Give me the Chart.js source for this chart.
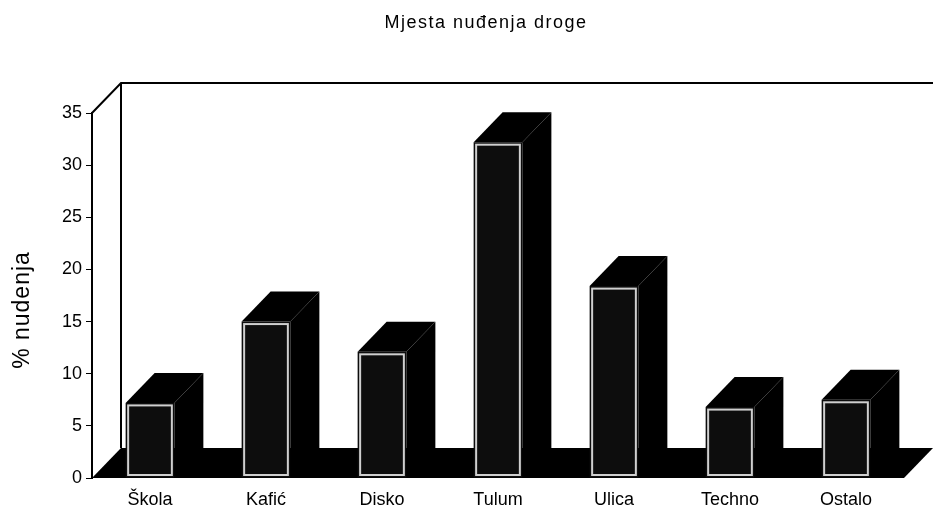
<!DOCTYPE html>
<html>
<head>
<meta charset="utf-8">
<script src="https://cdn.jsdelivr.net/npm/chart.js@4.4.1/dist/chart.umd.min.js"></script>
<style>
  body { margin: 0; background: #fff; }
  canvas { display: block; }
</style>
</head>
<body>
<canvas id="mjestaChart" width="934" height="512"></canvas>
<script>
// Podaci
const categories  = ['Škola', 'Kafić', 'Disko', 'Tulum', 'Ulica', 'Techno', 'Ostalo'];
const percentages = [7.2, 15.0, 12.1, 32.2, 18.4, 6.8, 7.5];
const yMin = 0, yMax = 35, yStep = 5;

const chartTitle = 'Mjesta nuđenja droge';
const yTitle     = '% nudenja';

const FONT = "'Liberation Sans', Arial, sans-serif";
const DX = 29, DY = -30;   // dubina 3D efekta

// ─────────────────────────────────────────────
// 3D pod, zidovi i kutije stupaca
// ─────────────────────────────────────────────
const box3d = {
  id: 'box3d',
  beforeDatasetsDraw(chart) {
    const { ctx, chartArea: a, scales } = chart;
    const yBase = scales.y.getPixelForValue(yMin);
    const yTop  = scales.y.getPixelForValue(yMax);
    ctx.save();
    ctx.strokeStyle = '#000';
    ctx.lineWidth = 2;
    ctx.beginPath();
    ctx.moveTo(a.left, yTop);
    ctx.lineTo(a.left + DX, yTop + DY);
    ctx.lineTo(a.right + DX, yTop + DY);
    ctx.moveTo(a.left + DX, yTop + DY);
    ctx.lineTo(a.left + DX, yBase + DY);
    ctx.stroke();

    ctx.fillStyle = '#000';
    ctx.beginPath();
    ctx.moveTo(a.left, yBase);
    ctx.lineTo(a.right, yBase);
    ctx.lineTo(a.right + DX, yBase + DY);
    ctx.lineTo(a.left + DX, yBase + DY);
    ctx.closePath();
    ctx.fill();
    ctx.restore();
  },
  afterDatasetsDraw(chart) {
    const { ctx } = chart;
    ctx.save();
    chart.getDatasetMeta(0).data.forEach(bar => {
      const { x, y, base, width } = bar.getProps(['x', 'y', 'base', 'width'], true);
      const l = x - width / 2, r = x + width / 2;
      ctx.fillStyle = '#000';
      ctx.beginPath();
      ctx.moveTo(l, y); ctx.lineTo(r, y);
      ctx.lineTo(r + DX, y + DY); ctx.lineTo(l + DX, y + DY);
      ctx.closePath(); ctx.fill();
      ctx.beginPath();
      ctx.moveTo(r, y); ctx.lineTo(r + DX, y + DY);
      ctx.lineTo(r + DX, base + DY); ctx.lineTo(r, base);
      ctx.closePath(); ctx.fill();
      ctx.strokeStyle = '#cfcfcf';
      ctx.lineWidth = 2;
      ctx.strokeRect(l + 2.5, y + 2.5, width - 5, base - y - 5);
    });
    ctx.restore();
  },
  afterDraw(chart) {
    const { ctx } = chart;
    ctx.save();
    ctx.fillStyle = '#000';
    ctx.font = '18px ' + FONT;
    ctx.letterSpacing = '1.5px';
    ctx.textAlign = 'center';
    ctx.textBaseline = 'alphabetic';
    ctx.fillText(chartTitle, 486, 28);

    ctx.font = '23px ' + FONT;
    ctx.letterSpacing = '1px';
    ctx.translate(23, 310);
    ctx.rotate(-Math.PI / 2);
    ctx.textBaseline = 'middle';
    ctx.fillText(yTitle, 0, 0);
    ctx.restore();
  }
};

new Chart(document.getElementById('mjestaChart'), {
  type: 'bar',
  data: {
    labels: categories,
    datasets: [{
      data           : percentages,
      backgroundColor: '#0d0d0d',
      borderWidth    : 0,
      barPercentage  : 0.42,
      categoryPercentage: 1,
    }]
  },
  options: {
    responsive: false,
    animation : false,
    devicePixelRatio: 1,
    layout: { padding: { top: 113, right: 30, bottom: 0, left: 0 } },
    plugins: {
      legend : { display: false },
      title  : { display: false },
      tooltip: { enabled: false }
    },
    scales: {
      x: {
        afterFit: s => { s.height = 34; },
        grid  : { display: false, drawTicks: false },
        border: { display: false },
        ticks : { color: '#000', padding: 11, font: { family: FONT, size: 18 } }
      },
      y: {
        min: yMin, max: yMax,
        afterFit: s => { s.width = 92; },
        grid  : { drawOnChartArea: false, drawTicks: true, tickLength: 6, tickColor: '#000' },
        border: { display: true, color: '#000', width: 2 },
        ticks : { stepSize: yStep, color: '#000', padding: 4, font: { family: FONT, size: 18 } }
      }
    }
  },
  plugins: [box3d]
});
</script>
</body>
</html>
